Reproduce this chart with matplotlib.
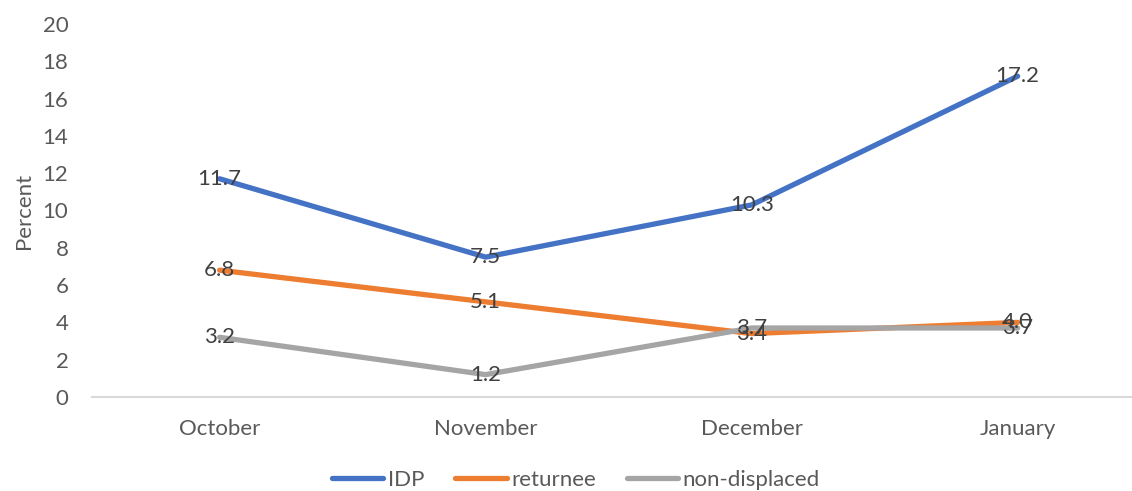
import matplotlib.pyplot as plt

plt.rcParams['font.family'] = ['Lato', 'DejaVu Sans']

months = ["October", "November", "December", "January"]
idp = [11.7, 7.5, 10.3, 17.2]
returnee = [6.8, 5.1, 3.4, 4.0]
non_displaced = [3.2, 1.2, 3.7, 3.7]

series = [
    ("IDP", idp, "#4472C4"),
    ("returnee", returnee, "#ED7D31"),
    ("non-displaced", non_displaced, "#A5A5A5"),
]

fs = 16
fig = plt.figure(figsize=(11.32, 4.91), dpi=100)
ax = fig.add_axes([92 / 1132, (491 - 397) / 491, 1 - 92 / 1132, (397 - 24) / 491])

x = list(range(len(months)))
for name, vals, color in series:
    ax.plot(x, vals, color=color, lw=3.8, solid_capstyle="round", label=name)

for name, vals, color in series:
    for xi, v in zip(x, vals):
        ax.text(xi, v, f"{v:.1f}", ha="center", va="center", fontsize=fs, color="#404040")

ax.set_xlim(-0.48, 3.43)
ax.set_ylim(0, 20)
ax.set_yticks(range(0, 21, 2))
ax.set_xticks(x)
ax.set_xticklabels(months)
ax.tick_params(axis="both", length=0, labelsize=fs, labelcolor="#595959")
ax.tick_params(axis="y", pad=17)
ax.tick_params(axis="x", pad=16)
for s in ["top", "right", "left"]:
    ax.spines[s].set_visible(False)
ax.spines["bottom"].set_color("#D9D9D9")
ax.spines["bottom"].set_linewidth(1.5)
ax.set_ylabel("Percent", fontsize=fs, color="#595959", labelpad=6)

leg = fig.legend(loc="center", bbox_to_anchor=(576 / 1132, 1 - 480 / 491), ncol=3, frameon=False,
                 fontsize=fs, handlelength=2.3, handletextpad=0.2, columnspacing=1.4)
for t in leg.get_texts():
    t.set_color("#595959")

fig.savefig("out.png", dpi=100)
